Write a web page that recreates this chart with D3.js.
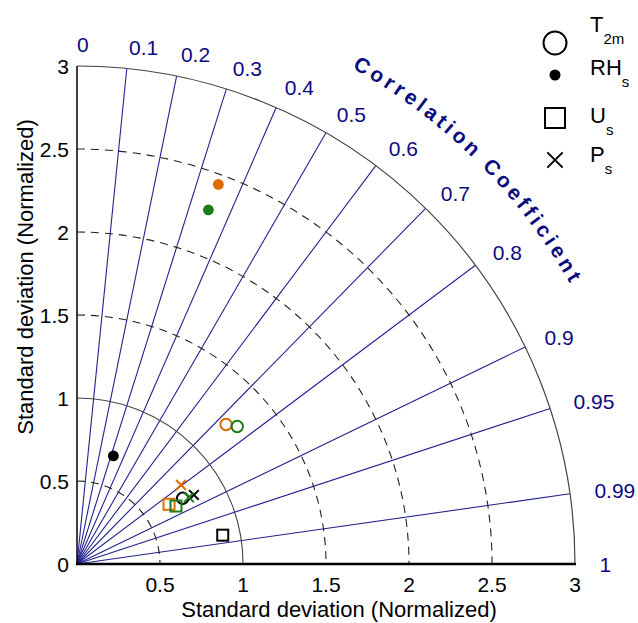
<!DOCTYPE html>
<html><head><meta charset="utf-8">
<script src="https://cdn.jsdelivr.net/npm/d3@7"></script>
<style>
html,body{margin:0;padding:0;background:#fff;}
svg{display:block;font-family:"Liberation Sans",Arial,Helvetica,sans-serif;}
</style></head>
<body>
<svg id="chart" width="638" height="623"></svg>
<script>
// ---------- data ----------
const variables = ["T2m", "RHs", "Us", "Ps"];
const seriesNames = ["Black", "Orange", "Green"];
const seriesColors = ["#000000", "#e06c00", "#1b7d1b"];
// normalized standard deviation per variable (order: T2m, RHs, Us, Ps)
const stdBlack  = [0.750, 0.687, 0.895, 0.818];
const stdOrange = [1.230, 2.440, 0.661, 0.787];
const stdGreen  = [1.272, 2.275, 0.691, 0.785];
// correlation coefficient per variable
const corBlack  = [0.849, 0.319, 0.981, 0.861];
const corOrange = [0.730, 0.349, 0.839, 0.796];
const corGreen  = [0.759, 0.348, 0.863, 0.859];
const stdTicks = [0, 0.5, 1, 1.5, 2, 2.5, 3];
const corTicks = [0, 0.1, 0.2, 0.3, 0.4, 0.5, 0.6, 0.7, 0.8, 0.9, 0.95, 0.99, 1];
const corLines = [0.1, 0.2, 0.3, 0.4, 0.5, 0.6, 0.7, 0.8, 0.9, 0.95, 0.99];
const dashedArcs = [0.5, 1.5, 2, 2.5];
const solidArcs = [1];
const legendLabels = [["T", "2m"], ["RH", "s"], ["U", "s"], ["P", "s"]];
const corTitle = "Correlation Coefficient";

// ---------- layout ----------
const svg = d3.select("#chart");
const ox = 77, oy = 564, maxStd = 3;
const r = d3.scaleLinear().domain([0, maxStd]).range([0, 498]);
const navy = "#0b0b80";
const lineBlue = "#22228f";

function pt(s, c) {
  const th = Math.acos(Math.max(-1, Math.min(1, c)));
  return [ox + r(s) * Math.cos(th), oy - r(s) * Math.sin(th)];
}
function arcPath(s) {
  const p = d3.path();
  p.moveTo(ox, oy - r(s));
  p.arc(ox, oy, r(s), -Math.PI / 2, 0);
  return p.toString();
}

// correlation rays
svg.append("g").selectAll("line").data(corLines).join("line")
  .attr("x1", ox).attr("y1", oy)
  .attr("x2", d => pt(maxStd, d)[0]).attr("y2", d => pt(maxStd, d)[1])
  .attr("stroke", lineBlue).attr("stroke-width", 1.1);

// std arcs
svg.append("g").selectAll("path").data(dashedArcs).join("path")
  .attr("d", arcPath).attr("fill", "none").attr("stroke", "#222")
  .attr("stroke-width", 1.1).attr("stroke-dasharray", "8,6");
svg.append("g").selectAll("path").data(solidArcs).join("path")
  .attr("d", arcPath).attr("fill", "none").attr("stroke", "#444").attr("stroke-width", 1.1);
svg.append("path").attr("d", arcPath(maxStd)).attr("fill", "none")
  .attr("stroke", "#444").attr("stroke-width", 1.2);

// axes
svg.append("line").attr("x1", ox).attr("y1", oy).attr("x2", ox).attr("y2", oy - r(maxStd))
  .attr("stroke", "#000").attr("stroke-width", 1.5);
svg.append("line").attr("x1", ox - 1).attr("y1", oy).attr("x2", ox + r(maxStd) + 1).attr("y2", oy)
  .attr("stroke", "#000").attr("stroke-width", 2.5);

// tick labels
svg.append("g").selectAll("text").data(stdTicks).join("text")
  .attr("x", 69).attr("y", d => oy - r(d)).attr("dy", "0.36em")
  .attr("text-anchor", "end").attr("font-size", 21).attr("fill", "#000")
  .text(d => d);
svg.append("g").selectAll("text").data(stdTicks.filter(d => d > 0)).join("text")
  .attr("x", d => ox + r(d)).attr("y", 592)
  .attr("text-anchor", "middle").attr("font-size", 21).attr("fill", "#000")
  .text(d => d);

// correlation labels
svg.append("g").selectAll("text").data(corTicks).join("text")
  .attr("x", d => pt(3.13, d)[0] + (d > 0.9 ? 3 : 0)).attr("y", d => pt(3.13, d)[1])
  .attr("dy", "0.36em").attr("text-anchor", "start")
  .attr("font-size", 21).attr("fill", navy)
  .text(d => d);

// axis titles
svg.append("text").attr("x", 339).attr("y", 617).attr("text-anchor", "middle")
  .attr("font-size", 22).attr("fill", "#000").text("Standard deviation (Normalized)");
svg.append("text").attr("transform", "translate(33,277) rotate(-90)")
  .attr("text-anchor", "middle").attr("font-size", 22).attr("fill", "#000")
  .text("Standard deviation (Normalized)");

// curved correlation title, letter by letter along an arc
const rt = 567, ls = 3.8;
let ang = -61 * Math.PI / 180;
const gTitle = svg.append("g").attr("font-size", 21).attr("font-weight", "bold").attr("fill", navy);
const meas = gTitle.append("text").attr("visibility", "hidden");
let cursor = 0;
for (const ch of corTitle) {
  meas.text(ch === " " ? "\u00a0" : ch);
  const w = meas.node().getComputedTextLength();
  if (ch !== " ") {
    const a = ang + (cursor + w / 2) / rt;
    const x = ox + rt * Math.cos(a), y = oy + rt * Math.sin(a);
    gTitle.append("text")
      .attr("transform", `translate(${x},${y}) rotate(${a * 180 / Math.PI + 90})`)
      .attr("text-anchor", "middle").text(ch);
  }
  cursor += w + ls;
}
meas.remove();

// markers
function drawMarker(g, kind, x, y, color, size) {
  if (kind === 0) {
    g.append("circle").attr("cx", x).attr("cy", y).attr("r", size)
      .attr("fill", "none").attr("stroke", color).attr("stroke-width", 2);
  } else if (kind === 1) {
    g.append("circle").attr("cx", x).attr("cy", y).attr("r", size * 0.95)
      .attr("fill", color);
  } else if (kind === 2) {
    g.append("rect").attr("x", x - size).attr("y", y - size)
      .attr("width", size * 2).attr("height", size * 2)
      .attr("fill", "none").attr("stroke", color).attr("stroke-width", 2);
  } else {
    const h = size * 0.85;
    g.append("path").attr("d", `M${x - h},${y - h}L${x + h},${y + h}M${x - h},${y + h}L${x + h},${y - h}`)
      .attr("stroke", color).attr("stroke-width", 2).attr("fill", "none");
  }
}
const stds = [stdBlack, stdOrange, stdGreen];
const cors = [corBlack, corOrange, corGreen];
const gPts = svg.append("g");
stds.forEach((sArr, si) => {
  sArr.forEach((s, vi) => {
    const [x, y] = pt(s, cors[si][vi]);
    drawMarker(gPts, vi, x, y, seriesColors[si], vi === 2 ? 5.5 : 5.7);
  });
});

// legend
const legY = [43, 75, 118, 160];
const legSize = [11.5, 5.8, 10, 9];
const gLeg = svg.append("g");
variables.forEach((v, i) => {
  drawMarker(gLeg, i, 555, legY[i], "#000", legSize[i]);
});
const legBase = [32, 75, 123, 162];
legendLabels.forEach((lab, i) => {
  const t = gLeg.append("text").attr("x", 590).attr("y", legBase[i])
    .attr("font-size", 22).attr("fill", "#000");
  t.append("tspan").text(lab[0]);
  t.append("tspan").attr("dy", 12).attr("font-size", 15).text(lab[1]);
});
</script>
</body></html>
